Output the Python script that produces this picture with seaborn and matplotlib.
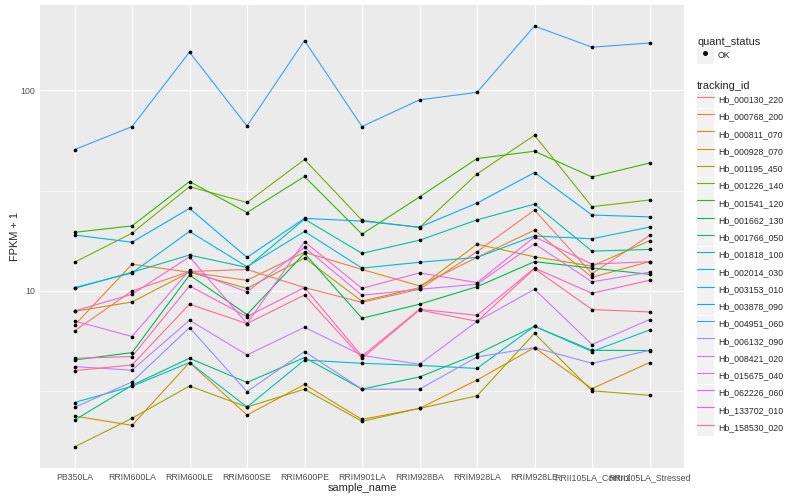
import matplotlib
matplotlib.use("Agg")
import matplotlib.pyplot as plt
import seaborn as sns
import pandas as pd
from matplotlib.lines import Line2D
from matplotlib.patches import Rectangle
from matplotlib.legend_handler import HandlerTuple
from matplotlib.ticker import FixedLocator, NullFormatter

# samples on the x axis
samples = ["PB350LA", "RRIM600LA", "RRIM600LE", "RRIM600SE", "RRIM600PE", "RRIM901LA",
           "RRIM928BA", "RRIM928LA", "RRIM928LE", "RRII105LA_Control", "RRII105LA_Stressed"]

tracking_ids = ["Hb_000130_220", "Hb_000768_200", "Hb_000811_070", "Hb_000928_070",
                "Hb_001195_450", "Hb_001226_140", "Hb_001541_120", "Hb_001662_130",
                "Hb_001766_050", "Hb_001818_100", "Hb_002014_030", "Hb_003153_010",
                "Hb_003878_090", "Hb_004951_060", "Hb_006132_090", "Hb_008421_020",
                "Hb_015675_040", "Hb_062226_060", "Hb_133702_010", "Hb_158530_020"]

# ggplot default hue palette, 20 levels
colors = ["#F8766D", "#EA8331", "#D89000", "#C09B00", "#A3A500", "#7CAE00", "#39B600",
          "#00BB4E", "#00BF7D", "#00C1A3", "#00BFC4", "#00BAE0", "#00B0F6", "#35A2FF",
          "#9590FF", "#C77CFF", "#E76BF3", "#FA62DB", "#FF62BC", "#FF6C91"]

# FPKM + 1 per gene, one value per sample
hb_000130_220 = [6.32, 10.0, 12.5, 12.8, 10.4, 8.78, 10.2, 15.7, 25.3, 12.2, 18.9]
hb_000768_200 = [6.75, 13.6, 12.4, 11.3, 15.6, 12.8, 10.6, 14.7, 20.1, 11.7, 14.0]
hb_000811_070 = [2.38, 2.14, 4.40, 2.41, 3.42, 2.29, 2.60, 3.60, 5.22, 3.26, 4.40]
hb_000928_070 = [7.92, 8.81, 12.4, 10.3, 14.6, 8.89, 10.4, 17.1, 14.8, 13.3, 17.8]
hb_001195_450 = [1.67, 2.32, 3.36, 2.64, 3.24, 2.24, 2.60, 3.00, 6.15, 3.18, 3.02]
hb_001226_140 = [13.9, 19.4, 33.1, 27.6, 45.2, 22.5, 20.7, 38.3, 59.7, 26.3, 28.4]
hb_001541_120 = [19.6, 21.1, 35.1, 24.6, 37.2, 19.2, 29.4, 45.7, 49.7, 37.0, 43.4]
hb_001662_130 = [4.53, 4.93, 12.0, 7.63, 15.4, 7.31, 8.59, 10.5, 14.0, 13.0, 12.1]
hb_001766_050 = [2.27, 3.39, 4.62, 3.50, 4.66, 3.24, 3.73, 4.85, 6.67, 5.06, 5.05]
hb_001818_100 = [10.3, 12.4, 15.1, 13.1, 22.8, 15.4, 17.9, 22.6, 27.1, 15.8, 16.1]
hb_002014_030 = [2.78, 3.35, 4.40, 2.64, 4.53, 4.36, 4.26, 4.11, 6.67, 4.99, 6.39]
hb_003153_010 = [10.4, 12.3, 19.8, 13.2, 19.8, 13.0, 13.9, 14.7, 18.8, 18.2, 20.8]
hb_003878_090 = [19.0, 17.5, 25.8, 14.7, 23.0, 22.3, 20.8, 27.4, 38.9, 23.9, 23.4]
hb_004951_060 = [50.6, 65.9, 155.0, 66.4, 177.0, 66.0, 89.6, 97.7, 209.0, 164.0, 172.0]
hb_006132_090 = [2.63, 3.52, 6.57, 3.15, 4.99, 3.24, 3.24, 4.69, 5.22, 4.36, 5.06]
hb_008421_020 = [4.20, 4.03, 7.15, 4.80, 6.59, 4.78, 4.31, 7.06, 10.2, 5.41, 7.20]
hb_015675_040 = [7.09, 5.93, 12.7, 9.89, 16.5, 9.52, 10.2, 10.8, 17.2, 11.1, 12.4]
hb_062226_060 = [7.95, 9.63, 14.8, 6.88, 17.6, 10.3, 12.3, 11.0, 18.6, 13.6, 14.0]
hb_133702_010 = [4.62, 4.71, 10.6, 7.45, 10.4, 4.73, 8.11, 7.56, 13.0, 9.74, 11.3]
hb_158530_020 = [4.01, 4.28, 8.59, 6.88, 9.55, 4.62, 8.04, 7.06, 12.9, 8.08, 7.86]

series = [hb_000130_220, hb_000768_200, hb_000811_070, hb_000928_070, hb_001195_450,
          hb_001226_140, hb_001541_120, hb_001662_130, hb_001766_050, hb_001818_100,
          hb_002014_030, hb_003153_010, hb_003878_090, hb_004951_060, hb_006132_090,
          hb_008421_020, hb_015675_040, hb_062226_060, hb_133702_010, hb_158530_020]

#Build long table
rows = []
for tid, vals in zip(tracking_ids, series):
    for s, v in zip(samples, vals):
        rows.append({"tracking_id": tid, "sample_name": s, "fpkm": v})
df = pd.DataFrame(rows)

sns.set_style("darkgrid", {"axes.facecolor": "#EBEBEB", "grid.color": "white"})
plt.rcParams["font.family"] = ["Liberation Sans", "DejaVu Sans"]

fig = plt.figure(figsize=(8, 5), dpi=100)
ax = fig.add_axes([40 / 800, 1 - 468 / 500, 644 / 800, 463 / 500])

sns.lineplot(data=df, x="sample_name", y="fpkm", hue="tracking_id", palette=colors,
             hue_order=tracking_ids, sort=False, errorbar=None, linewidth=0.8,
             legend=False, ax=ax)
sns.scatterplot(data=df, x="sample_name", y="fpkm", color="black", s=7, linewidth=0,
                legend=False, ax=ax, zorder=3)

ax.set_yscale("log")
ax.margins(y=0.05)
ax.set_xlim(-0.6, len(samples) - 0.4)
ax.yaxis.set_major_locator(FixedLocator([10, 100]))
ax.set_yticklabels(["10", "100"])
ax.yaxis.set_minor_locator(FixedLocator([10 ** 0.5, 10 ** 1.5]))
ax.yaxis.set_minor_formatter(NullFormatter())

ax.grid(which="major", color="white", linewidth=0.8)
ax.grid(which="minor", axis="y", color="white", linewidth=0.45)
for sp in ax.spines.values():
    sp.set_visible(False)
ax.tick_params(which="major", length=2, width=0.6, color="#333333", labelsize=6.3,
               labelcolor="#4D4D4D", pad=1.6)
ax.tick_params(which="minor", length=0)

ax.set_xlabel("sample_name", fontsize=7.9, labelpad=1)
ax.set_ylabel("FPKM + 1", fontsize=7.9, labelpad=0.5)

#Legends
def key_bg():
    return Rectangle((0, 0), 1, 1, facecolor="#F2F2F2", edgecolor="none")

common = dict(loc="upper left", frameon=False, fontsize=6.3, title_fontsize=7.9,
              handlelength=1.94, handleheight=2.61, handletextpad=0.45, borderpad=0,
              borderaxespad=0, labelspacing=0.03, alignment="left",
              handler_map={tuple: HandlerTuple(ndivide=1)})

h1 = [(key_bg(), Line2D([], [], marker="o", color="black", linestyle="none", markersize=2.5))]
leg1 = fig.legend(h1, ["OK"], title="quant_status", bbox_to_anchor=(697 / 800, 1 - 37 / 500), **common)

h2 = [(key_bg(), Line2D([], [], color=c, linewidth=0.8)) for c in colors]
leg2 = fig.legend(h2, tracking_ids, title="tracking_id", bbox_to_anchor=(697 / 800, 1 - 81 / 500), **common)

fig.savefig("out.png", dpi=100)
plt.close(fig)
